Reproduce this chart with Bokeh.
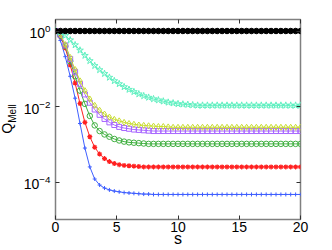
from bokeh.plotting import figure
from bokeh.models import LogAxis, LinearAxis, FixedTicker, Range1d, LogTickFormatter, Div
from bokeh.layouts import row
from bokeh.embed import file_html
from bokeh.resources import INLINE

# ---- data ----
s = [0, 0.4, 0.8, 1.2, 1.6, 2, 2.4, 2.8, 3.2, 3.6,
     4, 4.4, 4.8, 5.2, 5.6, 6, 6.4, 6.8, 7.2, 7.6,
     8, 8.4, 8.8, 9.2, 9.6, 10, 10.4, 10.8, 11.2, 11.6,
     12, 12.4, 12.8, 13.2, 13.6, 14, 14.4, 14.8, 15.2, 15.6,
     16, 16.4, 16.8, 17.2, 17.6, 18, 18.4, 18.8, 19.2, 19.6, 20]

# values given as log10(Q_Mell)
blue_log = [0, -0.25, -0.68, -1.2, -1.78, -2.45, -3.1, -3.6, -3.92, -4.08,
            -4.16, -4.21, -4.24, -4.26, -4.28, -4.29, -4.3, -4.31, -4.32, -4.32,
            -4.33, -4.33, -4.33, -4.33, -4.33, -4.33, -4.33, -4.33, -4.33, -4.33,
            -4.33, -4.33, -4.33, -4.33, -4.33, -4.33, -4.33, -4.33, -4.33, -4.33,
            -4.33, -4.33, -4.33, -4.33, -4.33, -4.33, -4.33, -4.33, -4.33, -4.33, -4.33]
red_log = [0, -0.14, -0.45, -0.9, -1.38, -1.92, -2.42, -2.8, -3.08, -3.26,
           -3.38, -3.46, -3.51, -3.54, -3.56, -3.57, -3.58, -3.59, -3.6, -3.6,
           -3.6, -3.6, -3.6, -3.6, -3.6, -3.6, -3.6, -3.6, -3.6, -3.6,
           -3.6, -3.6, -3.6, -3.6, -3.6, -3.6, -3.6, -3.6, -3.6, -3.6,
           -3.6, -3.6, -3.6, -3.6, -3.6, -3.6, -3.6, -3.6, -3.6, -3.6, -3.6]
green_log = [0, -0.12, -0.4, -0.8, -1.2, -1.58, -1.93, -2.25, -2.5, -2.65,
             -2.74, -2.8, -2.86, -2.9, -2.93, -2.95, -2.96, -2.97, -2.98, -2.99,
             -2.99, -2.99, -2.99, -2.99, -2.99, -2.99, -2.99, -2.99, -2.99, -2.99,
             -2.99, -2.99, -2.99, -2.99, -2.99, -2.99, -2.99, -2.99, -2.99, -2.99,
             -2.99, -2.99, -2.99, -2.99, -2.99, -2.99, -2.99, -2.99, -2.99, -2.99, -2.99]
purple_log = [0, -0.1, -0.38, -0.74, -1.08, -1.4, -1.68, -1.9, -2.08, -2.22,
              -2.33, -2.42, -2.49, -2.54, -2.57, -2.59, -2.61, -2.62, -2.63, -2.64,
              -2.65, -2.65, -2.65, -2.65, -2.65, -2.65, -2.65, -2.65, -2.65, -2.65,
              -2.65, -2.65, -2.65, -2.65, -2.65, -2.65, -2.65, -2.65, -2.65, -2.65,
              -2.65, -2.65, -2.65, -2.65, -2.65, -2.65, -2.65, -2.65, -2.65, -2.65, -2.65]
yellow_log = [0, -0.1, -0.36, -0.7, -1.02, -1.32, -1.58, -1.8, -1.97, -2.1,
              -2.2, -2.28, -2.34, -2.38, -2.42, -2.45, -2.47, -2.49, -2.5, -2.51,
              -2.52, -2.53, -2.53, -2.54, -2.55, -2.55, -2.55, -2.55, -2.55, -2.55,
              -2.55, -2.55, -2.55, -2.55, -2.55, -2.55, -2.55, -2.55, -2.55, -2.55,
              -2.55, -2.55, -2.55, -2.55, -2.55, -2.55, -2.55, -2.55, -2.55, -2.55, -2.55]
cyan_log = [0, -0.04, -0.12, -0.24, -0.37, -0.51, -0.65, -0.79, -0.92, -1.03,
            -1.13, -1.23, -1.32, -1.4, -1.48, -1.55, -1.61, -1.67, -1.72, -1.76,
            -1.8, -1.83, -1.86, -1.89, -1.91, -1.93, -1.94, -1.95, -1.96, -1.97,
            -1.97, -1.97, -1.97, -1.97, -1.97, -1.97, -1.97, -1.97, -1.97, -1.97,
            -1.97, -1.97, -1.97, -1.97, -1.97, -1.97, -1.97, -1.97, -1.97, -1.97, -1.97]
black_log = [0, 0, 0, 0, 0, 0, 0, 0, 0, 0,
             0, 0, 0, 0, 0, 0, 0, 0, 0, 0,
             0, 0, 0, 0, 0, 0, 0, 0, 0, 0,
             0, 0, 0, 0, 0, 0, 0, 0, 0, 0,
             0, 0, 0, 0, 0, 0, 0, 0, 0, 0, 0]

x_ticks = [0, 5, 10, 15, 20]
y_ticks = [1e-4, 1e-2, 1]
x_label = "s"
y_label_main = "Q"
y_label_sub = "Mell"

FONT = "Liberation Sans"
LABEL_W = 20

p = figure(width=332 - LABEL_W, height=250, output_backend="svg", toolbar_location=None,
           x_range=Range1d(0, 20), y_range=Range1d(1.016e-5, 2.017), y_axis_type="log",
           min_border_left=50 - LABEL_W, min_border_top=19, min_border_right=32,
           min_border_bottom=31)
p.background_fill_color = "white"
p.border_fill_color = "white"
p.xgrid.visible = False
p.ygrid.visible = False
p.outline_line_color = "#808080"
p.outline_line_width = 1.5
p.outline_line_alpha = 1.0

def style_axis(ax, labels=True):
    ax.axis_line_color = None
    ax.major_tick_in = 4
    ax.major_tick_out = 0
    ax.minor_tick_in = 0
    ax.minor_tick_out = 0
    ax.major_tick_line_color = "#303030"
    ax.major_label_text_font = FONT
    ax.major_label_text_color = "black"
    if not labels:
        ax.major_label_text_font_size = "0px"
        ax.major_label_text_alpha = 0

xa = p.xaxis[0]
xa.ticker = FixedTicker(ticks=x_ticks)
style_axis(xa)
xa.major_label_text_font_size = "14px"
xa.major_label_standoff = 2
xa.axis_label = x_label
xa.axis_label_text_font = FONT
xa.axis_label_text_font_style = "normal"
xa.axis_label_text_font_size = "16px"
xa.axis_label_text_color = "black"
xa.axis_label_standoff = -5

ya = p.yaxis[0]
ya.ticker = FixedTicker(ticks=y_ticks, minor_ticks=[])
ya.formatter = LogTickFormatter()
style_axis(ya)
ya.major_label_text_font_size = "14px"
ya.major_label_standoff = 5

top = LinearAxis(ticker=FixedTicker(ticks=x_ticks))
style_axis(top, labels=False)
p.add_layout(top, "above")
right = LogAxis(ticker=FixedTicker(ticks=y_ticks, minor_ticks=[]))
style_axis(right, labels=False)
p.add_layout(right, "right")

def Q(vals):
    return [10 ** v for v in vals]

lw = 1
p.line(s, Q(blue_log), color="#3f5fff", line_width=lw)
p.scatter(s, Q(blue_log), marker="cross", size=4, line_color="#3f5fff", line_width=1)

p.line(s, Q(red_log), color="#ff2020", line_width=lw)
p.scatter(s, Q(red_log), marker="asterisk", size=5, line_color="#ff2020", line_width=1.2)

p.line(s, Q(green_log), color="#40b040", line_width=lw)
p.scatter(s, Q(green_log), marker="circle", size=5.5, line_color="#40b040", fill_color=None, line_width=1)

p.line(s, Q(purple_log), color="#a866ff", line_width=lw)
p.scatter(s, Q(purple_log), marker="square", size=5, line_color="#a866ff", fill_color=None, line_width=1)

p.line(s, Q(yellow_log), color="#c8dc30", line_width=lw)
p.scatter(s, Q(yellow_log), marker="diamond", size=6, line_color="#c8dc30", fill_color=None, line_width=1)

p.line(s, Q(cyan_log), color="#5ff0c0", line_width=lw)
p.scatter(s, Q(cyan_log), marker="star", size=7, line_color="#5ff0c0", fill_color=None, line_width=1)

p.line(s, Q(black_log), color="black", line_width=lw)
p.scatter(s, Q(black_log), marker="circle", size=5.5, line_color="black", fill_color="black")

# rotated y-axis title with a real subscript
ylab_html = (
    '<div style="position:relative;width:%dpx;height:250px;">'
    '<div style="position:absolute;left:0;top:0;width:200px;height:14px;line-height:14px;'
    'text-align:center;white-space:nowrap;font-family:\'%s\';font-size:14px;color:black;'
    'transform-origin:0 0;transform:translate(0px,219px) rotate(-90deg);">'
    '%s<sub style="font-size:10px;">%s</sub></div></div>'
) % (LABEL_W, FONT, y_label_main, y_label_sub)
ylab = Div(text=ylab_html, width=LABEL_W, height=250, margin=(0, 0, 0, 0))

layout = row(ylab, p, spacing=0)
open("out.html", "w").write(file_html(layout, INLINE))
